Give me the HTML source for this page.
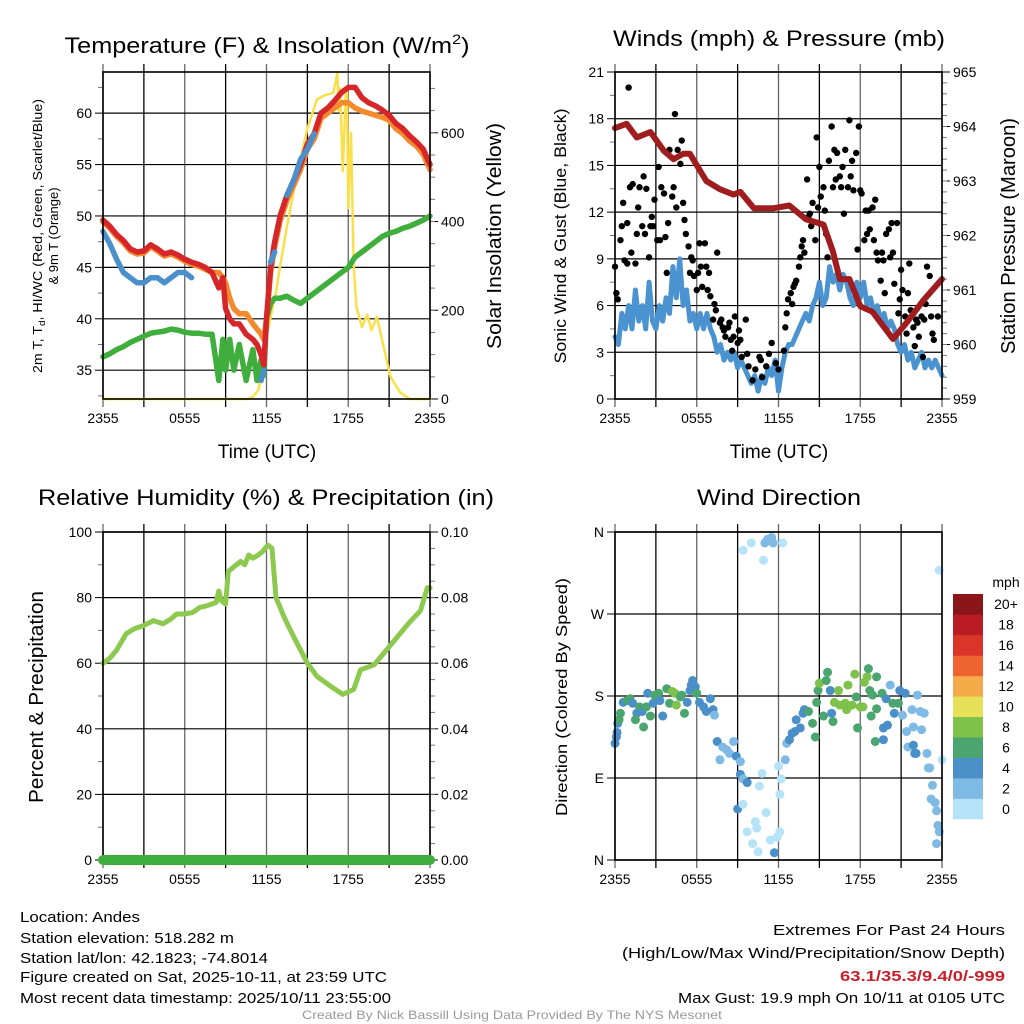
<!DOCTYPE html>
<html><head><meta charset="utf-8"><style>
html,body{margin:0;padding:0;background:#fff}
svg{display:block;font-family:"Liberation Sans",Arial,sans-serif}
</style></head><body>
<svg id="fig" width="1024" height="1024" viewBox="0 0 1024 1024" xmlns="http://www.w3.org/2000/svg">
<rect x="0" y="0" width="1024" height="1024" fill="#fff"/>
<g id="layer"></g>
<!-- titles -->
<text x="267" y="53" font-size="22" text-anchor="middle" textLength="405" lengthAdjust="spacingAndGlyphs">Temperature (F) &amp; Insolation (W/m<tspan font-size="14" dy="-9">2</tspan><tspan dy="9">)</tspan></text>
<text x="779" y="46" font-size="22" text-anchor="middle" textLength="332" lengthAdjust="spacingAndGlyphs">Winds (mph) &amp; Pressure (mb)</text>
<text x="266" y="505" font-size="22" text-anchor="middle" textLength="456" lengthAdjust="spacingAndGlyphs">Relative Humidity (%) &amp; Precipitation (in)</text>
<text x="779" y="505" font-size="22" text-anchor="middle" textLength="164" lengthAdjust="spacingAndGlyphs">Wind Direction</text>
<!-- axis titles -->
<text x="267" y="458" font-size="19" text-anchor="middle">Time (UTC)</text>
<text x="779" y="458" font-size="19" text-anchor="middle">Time (UTC)</text>
<text transform="translate(42,236) rotate(-90)" font-size="13" text-anchor="middle" textLength="274" lengthAdjust="spacingAndGlyphs">2m T, T<tspan font-size="9" dy="3">d</tspan><tspan dy="-3">, HI/WC (Red, Green, Scarlet/Blue)</tspan></text>
<text transform="translate(58,236) rotate(-90)" font-size="13" text-anchor="middle">&amp; 9m T (Orange)</text>
<text transform="translate(501,236) rotate(-90)" font-size="20" text-anchor="middle" textLength="226" lengthAdjust="spacingAndGlyphs">Solar Insolation (Yellow)</text>
<text transform="translate(566,236) rotate(-90)" font-size="17" text-anchor="middle" textLength="255" lengthAdjust="spacingAndGlyphs">Sonic Wind &amp; Gust (Blue, Black)</text>
<text transform="translate(1015,236) rotate(-90)" font-size="20" text-anchor="middle" textLength="236" lengthAdjust="spacingAndGlyphs">Station Pressure (Maroon)</text>
<text transform="translate(43,697) rotate(-90)" font-size="20" text-anchor="middle" textLength="212" lengthAdjust="spacingAndGlyphs">Percent &amp; Precipitation</text>
<text transform="translate(567,697) rotate(-90)" font-size="16" text-anchor="middle" textLength="238" lengthAdjust="spacingAndGlyphs">Direction (Colored By Speed)</text>
<!-- footer -->
<g font-size="15">
<text x="20" y="922" textLength="120" lengthAdjust="spacingAndGlyphs">Location: Andes</text>
<text x="20" y="943" textLength="214" lengthAdjust="spacingAndGlyphs">Station elevation: 518.282 m</text>
<text x="20" y="963" textLength="248" lengthAdjust="spacingAndGlyphs">Station lat/lon: 42.1823; -74.8014</text>
<text x="20" y="982" textLength="367" lengthAdjust="spacingAndGlyphs">Figure created on Sat, 2025-10-11, at 23:59 UTC</text>
<text x="20" y="1003" textLength="371" lengthAdjust="spacingAndGlyphs">Most recent data timestamp: 2025/10/11 23:55:00</text>
</g>
<g font-size="15" text-anchor="end">
<text x="1005" y="935" textLength="232" lengthAdjust="spacingAndGlyphs">Extremes For Past 24 Hours</text>
<text x="1005" y="958" textLength="383" lengthAdjust="spacingAndGlyphs">(High/Low/Max Wind/Precipitation/Snow Depth)</text>
<text x="1005" y="981" fill="#c8202a" font-weight="bold" textLength="165" lengthAdjust="spacingAndGlyphs">63.1/35.3/9.4/0/-999</text>
<text x="1005" y="1003" textLength="327" lengthAdjust="spacingAndGlyphs">Max Gust: 19.9 mph On 10/11 at 0105 UTC</text>
</g>
<text x="512" y="1019" font-size="12" fill="#999" text-anchor="middle" textLength="420" lengthAdjust="spacingAndGlyphs">Created By Nick Bassill Using Data Provided By The NYS Mesonet</text>
</svg>
<script>
// ---------- DATA ----------
const timeTickLabels = ["2355","0555","1155","1755","2355"];
const tHours = [0,0.5,1,1.5,2,2.5,3,3.5,4,4.5,5,5.5,6,6.5,7,7.5,8,8.5,8.8,9,9.3,9.6,10,10.5,11,11.3,11.6,11.8,12,12.3,12.6,13,13.5,14,14.5,15,15.5,16,16.5,17,17.5,18,18.5,19,19.5,20,20.5,21,21.5,22,22.5,23,23.5,24];
const tempRed = [49.6,49,48.2,47.6,46.8,46.5,46.6,47.2,46.8,46.3,46.5,46.2,45.8,45.5,45.3,45,44.5,43,44,41,40,39.5,39.5,38.5,38,37.5,36.5,35.5,40,45,47.5,50,52,53.5,55,57,58,60,60.5,61.2,62,62.5,62.5,61.5,61,60.7,60.3,59.8,59,58.5,57.8,57.2,56.5,55];
const temp9m = [49.4,48.8,48,47.4,46.6,46.3,46.4,47,46.6,46.1,46.3,46,45.6,45.3,45.1,44.8,44.5,44.5,44,43.5,42,41,40.5,40.5,39.5,39,38.5,38,40,44.5,47,49.5,51.5,53,54.5,56.5,57.5,59.5,60,60.5,61,61,60.5,60.2,60,59.8,59.6,59.3,58.5,58,57.3,56.8,56,54.5];
const dewpoint = [36.3,36.6,37,37.3,37.7,38,38.3,38.6,38.7,38.8,39,38.9,38.7,38.6,38.6,38.5,38.5,34,38,35,38,35,37.5,34,37,34,36,34.5,40,41.5,42,42,42.2,41.8,41.5,42,42.5,43,43.5,44,44.5,45,46,46.5,47,47.5,48,48.3,48.5,48.8,49,49.3,49.6,50];
const heatIndex = [48.5,47.3,45.8,44.5,44,43.5,43.5,44,44,43.5,44,44.5,44.5,44,null,null,null,null,null,null,null,null,null,null,null,null,34,35,null,45.5,46.5,null,52,53.5,55.5,56.5,58,null,null,null,null,null,null,null,null,null,null,null,null,null,null,null,null,null];
const solarHours = [0,10.6,11.0,11.4,11.8,12.0,12.4,12.7,13.0,13.5,14.0,14.5,15.0,15.7,16.3,16.9,17.2,17.3,17.4,17.6,17.8,17.9,18.0,18.2,18.4,18.6,19.0,19.4,19.7,20.1,20.6,21.1,21.8,22.5,24];
const solarVals = [0,0,5,20,80,140,200,240,300,388,470,540,610,675,685,690,735,650,700,513,680,700,430,600,300,208,162,190,155,185,117,50,15,0,0];
const tempTicks = [35,40,45,50,55,60];
const solarTicks = [0,200,400,600];

const windSpeed = [4,3.5,5.5,4.5, 6,4.5,7,5, 6,4.5,7.5,5, 4.5,6,5,6.5, 5.5,8.5,6.5,9, 6,7,5,5.5, 4.5,5.5,4.5,5.5, 4.5,4,3,3.5, 2.5,3,2.5,3, 2,2.5,2,1.5, 1,1.5,0.5,1.5, 1,2,1.5,2.5, 0.5,2,3,3.5, 3.5,4,4.5,5, 5.5,5,6,6.5, 7.5,6,6.5,8.5, 7.5,8,7,8, 7.5,6.5,6,7.5, 6.5,7.5,6,6.5, 5.5,6,5,5.5, 4.5,5,4.5,3.5, 3,3.5,2.5,3, 2,2.5,3,2, 2.5,2,2.5,2, 1.5];
const gustHours = [0.0,0.1,0.2,0.4,0.5,0.6,0.7,0.9,1.0,1.1,1.2,0.9,1.3,1.5,1.6,1.7,1.8,2.0,2.1,2.2,2.3,2.5,2.6,2.7,2.8,2.9,3.1,3.2,3.3,3.4,3.6,3.7,3.8,3.9,4.0,4.2,4.3,4.4,4.5,4.6,4.8,4.9,5.0,5.1,5.2,5.4,5.5,5.6,5.7,5.8,6.0,6.1,6.2,6.3,6.4,6.6,6.7,6.8,6.9,7.0,7.2,7.3,7.4,7.5,7.7,7.8,7.9,8.0,8.1,8.3,8.4,8.5,8.6,8.7,8.8,9.0,9.1,9.2,9.3,9.6,9.7,9.8,10.1,10.3,10.6,10.7,10.8,11.1,11.3,11.5,11.8,12.0,12.4,12.5,12.6,12.7,12.9,13.0,13.1,13.2,13.3,13.5,13.6,13.7,13.8,13.9,14.1,14.2,14.3,14.4,14.5,14.7,14.8,14.9,15.0,15.1,15.3,15.4,15.5,15.6,15.7,15.9,16.0,16.1,16.2,16.3,16.5,16.6,16.7,16.8,16.9,17.1,17.2,17.3,17.4,17.5,17.7,17.8,17.9,18.0,18.1,18.3,18.4,18.5,18.6,18.7,18.9,19.0,19.1,19.2,19.3,19.5,19.6,19.7,19.8,19.9,20.1,20.2,20.3,20.4,20.5,20.7,20.8,20.9,21.0,21.1,21.3,21.4,21.5,21.6,21.7,21.9,22.0,22.1,22.2,22.3,22.5,22.6,22.7,22.8,22.9,23.1,23.2,23.3,23.4,23.7];
const gustVals = [8.5,6.8,6.4,10.2,11.1,12.6,8.9,11.3,20.0,13.6,9.4,8.7,13.8,8.7,10.6,12.3,13.6,11.1,14.3,10.6,13.5,9.1,11.1,11.7,11.1,12.8,10.2,14.9,10.2,13.6,13.2,10.4,8.1,11.3,16.0,13.0,13.6,18.3,12.3,16.0,15.1,16.6,12.6,11.5,10.6,9.8,8.1,9.1,8.9,7.9,7.0,8.1,10.0,8.5,7.2,10.0,8.5,7.0,8.1,6.6,5.1,6.1,5.7,9.4,4.9,5.1,4.6,4.4,4.0,4.6,4.9,3.8,3.1,4.0,5.3,3.6,4.4,3.8,2.7,5.1,2.9,2.1,1.2,1.9,2.7,2.5,1.4,2.1,2.9,3.6,2.3,1.9,3.1,4.6,5.5,6.4,6.8,6.1,7.2,7.4,7.6,8.5,9.1,9.8,10.2,9.4,14.1,11.7,11.9,11.1,12.6,10.2,16.8,12.3,14.9,13.0,13.6,12.1,10.6,9.1,15.3,17.5,13.6,16.0,14.1,15.8,14.3,13.6,14.9,11.9,16.0,13.6,17.9,14.3,15.3,13.4,15.8,9.6,17.5,13.4,13.2,10.2,12.1,10.6,12.1,10.9,12.3,10.2,12.8,9.4,8.9,7.6,9.4,8.9,6.8,10.6,10.9,9.1,11.3,9.4,7.4,11.3,5.5,6.4,8.3,7.0,5.3,4.2,6.8,8.7,5.7,4.6,3.4,5.1,4.9,4.0,5.3,2.7,5.1,6.1,8.5,7.9,5.3,4.2,3.8,5.3];
const presHours = [0,0.85,1.6,2.6,3.6,4.3,5,5.5,6.7,7.7,8.7,9.2,10.2,11.6,12.8,14,15.3,16,16.5,17.2,18,18.9,20.4,21.4,22.6,24];
const presVals = [963.97,964.05,963.8,963.9,963.55,963.4,963.5,963.5,963.0,962.85,962.75,962.8,962.5,962.5,962.55,962.3,962.2,961.7,961.2,961.2,960.7,960.6,960.1,960.4,960.8,961.2];
const windTicks = [0,3,6,9,12,15,18,21];
const presTicks = [959,960,961,962,963,964,965];

const rhHours = [0,0.5,1,1.7,2.3,3,3.7,4.4,5,5.4,6,6.6,7.1,7.6,8.3,8.5,8.7,9.0,9.2,9.5,10.1,10.4,10.7,11,11.4,11.7,12.1,12.4,12.7,13.3,14,15,15.7,16.7,17.6,18.4,18.9,19.9,20.8,21.8,22.5,23.3,23.8,24];
const rhVals = [60,61.5,64,69,70.5,71.5,73,72,73.5,75,75,75.5,77,77.5,78.5,82,79,78,88,89,91,90,93,92,93,94,96,95,80,74,68,60,56,53,50.5,52,58,59.5,64,69,72.5,76,83,83];
const precipHours = [0,24];
const precipVals = [0,0];
const rhTicks = [0,20,40,60,80,100];
const precipTicks = ["0.00","0.02","0.04","0.06","0.08","0.10"];

const dirHours = [0,0.1,0.15,0.2,0.3,0.4,0.6,0.9,1.1,1.3,1.6,1.5,1.8,2.1,2.0,2.3,2.4,2.6,2.8,2.9,3.2,3.3,3.5,3.8,4.0,4.2,4.4,4.5,4.8,4.9,5.1,5.3,5.5,5.6,5.7,5.9,6.0,6.2,6.5,6.7,7.0,7.2,7.3,7.5,7.7,7.9,8.2,8.4,8.7,8.9,9.2,9.2,9.4,9.7,9.0,9.4,9.7,10.3,10.4,10.1,10.5,10.6,10.8,11.1,11.4,11.7,11.9,12.1,12.1,12.2,12.0,12.5,12.6,12.8,13.0,13.2,13.3,13.6,13.8,13.9,14.2,14.5,14.7,14.8,14.9,15.0,15.3,15.5,15.6,15.8,15.9,16.0,16.1,16.4,16.5,16.9,17.0,17.1,17.4,17.6,17.7,17.8,18.0,18.2,18.3,18.5,18.6,18.7,18.8,18.9,19.1,19.2,19.2,19.6,19.7,19.7,19.9,20.0,20.2,20.4,20.5,20.8,20.9,21.1,21.3,21.4,21.5,21.8,21.9,22.0,22.2,22.4,22.5,22.7,22.9,23.1,23.3,23.2,23.5,23.6,23.7,23.8,23.6,23.8,24.0,23.0,21.9,22.1,9.4,10.0,10.9,11.0,11.2,11.5,11.6,12.3];
const dirVals = [128,135,140,150,154,161,173,175,177,172,161,154,168,146,163,168,183,158,172,181,183,175,158,188,172,185,183,170,179,181,161,173,186,192,197,190,183,173,168,163,177,165,159,130,110,124,121,117,130,114,108,94,89,85,56,61,31,42,35,18,9,81,95,52,22,8,25,31,72,89,103,110,128,132,139,141,154,145,161,165,163,150,135,173,186,194,158,197,206,186,161,152,173,186,170,172,165,192,170,204,179,145,168,168,195,201,210,186,158,181,130,201,166,183,145,132,177,148,192,172,161,172,186,159,183,141,124,165,146,117,181,163,143,161,117,101,82,67,63,54,38,31,18,318,110,101,126,117,340,348,329,348,352,354,348,348];
const dirSpeed = [4,4,4,4,6,6,4,6,6,4,4,6,6,6,4,6,4,6,4,6,6,4,4,6,6,8,8,8,6,6,6,4,4,4,4,4,6,4,4,4,4,4,2,4,2,2,2,2,2,4,2,4,2,4,4,0,0,0,0,0,0,0,0,0,0,4,0,0,0,0,0,2,2,4,4,4,4,4,4,4,6,6,6,6,6,8,6,6,6,4,4,6,8,8,8,8,8,8,8,8,6,6,8,8,8,8,6,6,6,6,6,6,6,6,4,4,4,4,2,6,4,6,4,2,4,2,2,2,2,4,2,2,2,2,2,2,2,2,2,2,2,2,2,0,0,2,4,4,0,0,0,2,2,2,2,0];
const dirTickLabels = ["N","E","S","W","N"];
const dirTickVals = [0,90,180,270,360];
const speedLabels = ["0","2","4","6","8","10","12","14","16","18","20+"];
const speedColors = ["#b5e3f7","#7ebae4","#4a8fc7","#4aa56f","#7ec14b","#e6e159","#f4aa48","#ee6330","#db3529","#ba1c24","#8c1519"];

// ---------- DRAWING ----------
const NS = "http://www.w3.org/2000/svg";
const layer = document.getElementById("layer");
function el(tag, attrs, parent) {
  const e = document.createElementNS(NS, tag);
  for (const k in attrs) e.setAttribute(k, attrs[k]);
  (parent || layer).appendChild(e);
  return e;
}
function lin(d0, d1, r0, r1) { return v => r0 + (v - d0) / (d1 - d0) * (r1 - r0); }

function frame(x0, x1, y0, y1, name) {
  const g = el("g", {});
  
  
  const xs = lin(0, 24, x0, x1);
  for (let h = 0; h <= 24; h += 3) {
    const ln = el("line", {x1: xs(h), x2: xs(h), y1: y0 - 8, y2: y1 + 8, stroke: (h % 6 === 3) ? "#000" : "#666", "stroke-width": 1.3}, g);
    
    
  }
  timeTickLabels.forEach((t, i) => {
    const tx = el("text", {x: xs(i * 6), y: y1 + 24, "font-size": 14, "text-anchor": "middle"}, g);
    tx.textContent = t;
    
    
  });
  return {g, xs};
}
function hgrid(g, ys, ticks, labels, x0, x1, side, grid) {
  ticks.forEach((v, i) => {
    const y = ys(v);
    if (grid) {
      const ln = el("line", {x1: x0, x2: x1, y1: y, y2: y, stroke: "#000", "stroke-width": 1.2}, g);
      
      
    }
    const ax = side === "left" ? x0 : x1;
    const dx = side === "left" ? -8 : 8;
    el("line", {x1: ax, x2: ax + dx, y1: y, y2: y, stroke: "#000", "stroke-width": 1}, g);
    const tx = el("text", {x: side === "left" ? ax - 11 : ax + 11, y: y + 5, "font-size": 14, "text-anchor": side === "left" ? "end" : "start"}, g);
    tx.textContent = labels[i];
    
    
  });
}
function minor(g, ys, from, to, step, ax, dx) {
  for (let v = from; v <= to + 1e-9; v += step) {
    el("line", {x1: ax, x2: ax + dx, y1: ys(v), y2: ys(v), stroke: "#777", "stroke-width": 1}, g);
  }
}
function box(g, x0, x1, y0, y1) {
  const r = el("rect", {x: x0, y: y0, width: x1 - x0, height: y1 - y0, fill: "none", stroke: "#000", "stroke-width": 1.6}, g);
  
  
}
function path(g, hs, vs, xs, ys, color, w, name) {
  let d = "", pen = false;
  hs.forEach((h, i) => {
    const v = vs[i];
    if (v === null || v === undefined) { pen = false; return; }
    d += (pen ? "L" : "M") + xs(h).toFixed(1) + "," + ys(v).toFixed(1);
    pen = true;
  });
  const p = el("path", {d, fill: "none", stroke: color, "stroke-width": w, "stroke-linejoin": "round", "stroke-linecap": "round"}, g);
  
  
  return p;
}

// Panel 1: temperature
{
  const X0 = 103, X1 = 430, Y0 = 72, Y1 = 399;
  const {g, xs} = frame(X0, X1, Y0, Y1, "temperature-panel");
  const ys = lin(32.2, 64.0, Y1, Y0);
  const ss = lin(0, 737, Y1, Y0);
  hgrid(g, ys, tempTicks, tempTicks.map(String), X0, X1, "left", true);
  hgrid(g, ss, solarTicks, solarTicks.map(String), X0, X1, "right", false);
  minor(g, ys, 32.5, 62.5, 5, X0, -5);
  minor(g, ss, 50, 700, 50, X1, 5);
  path(g, solarHours, solarVals, xs, ss, "#f9e04b", 2.5, "solar-insolation-line");
  path(g, tHours, dewpoint, xs, ys, "#40ae3c", 5.5, "dewpoint-line");
  path(g, tHours, temp9m, xs, ys, "#f48a2e", 5.5, "temp-9m-line");
  path(g, tHours, tempRed, xs, ys, "#d7262a", 5.5, "temp-2m-line");
  path(g, tHours, heatIndex, xs, ys, "#4b90cb", 5.5, "heat-index-line");
  box(g, X0, X1, Y0, Y1);
}
// Panel 2: wind & pressure
{
  const X0 = 615, X1 = 942, Y0 = 72, Y1 = 399;
  const {g, xs} = frame(X0, X1, Y0, Y1, "wind-panel");
  const ys = lin(0, 21, Y1, Y0);
  const ps = lin(959, 965, Y1, Y0);
  hgrid(g, ys, windTicks, windTicks.map(String), X0, X1, "left", true);
  hgrid(g, ps, presTicks, presTicks.map(String), X0, X1, "right", false);
  minor(g, ys, 1.5, 19.5, 3, X0, -5);
  minor(g, ps, 959.2, 964.8, 0.2, X1, 5);
  const wh = windSpeed.map((_, i) => i * 0.25);
  path(g, wh, windSpeed, xs, ys, "#4b93d0", 5, "sonic-wind-line");
  gustHours.forEach((h, i) => {
    const c = el("circle", {cx: xs(h), cy: ys(gustVals[i]), r: 3.2, fill: "#000"}, g);
    
    
  });
  path(g, presHours, presVals, xs, ps, "#a01d1f", 6, "station-pressure-line");
  box(g, X0, X1, Y0, Y1);
}
// Panel 3: RH & precipitation
{
  const X0 = 103, X1 = 430, Y0 = 532, Y1 = 860;
  const {g, xs} = frame(X0, X1, Y0, Y1, "humidity-panel");
  const ys = lin(0, 100, Y1, Y0);
  const ps = lin(0, 0.1, Y1, Y0);
  hgrid(g, ys, rhTicks, rhTicks.map(String), X0, X1, "left", true);
  hgrid(g, ps, precipTicks.map(Number), precipTicks, X0, X1, "right", false);
  minor(g, ys, 10, 90, 20, X0, -5);
  minor(g, ps, 0.005, 0.095, 0.005, X1, 5);
  path(g, rhHours, rhVals, xs, ys, "#8cc94e", 5, "relative-humidity-line");
  box(g, X0, X1, Y0, Y1);
  path(g, precipHours, precipVals, xs, ps, "#40ae3c", 10, "precipitation-line");
}
// Panel 4: wind direction
{
  const X0 = 615, X1 = 942, Y0 = 532, Y1 = 860;
  const {g, xs} = frame(X0, X1, Y0, Y1, "wind-direction-panel");
  const ys = lin(0, 360, Y1, Y0);
  hgrid(g, ys, dirTickVals, dirTickLabels, X0, X1, "left", true);
  dirHours.forEach((h, i) => {
    const c = el("circle", {cx: xs(h), cy: ys(dirVals[i]), r: 4.5, fill: speedColors[dirSpeed[i] / 2]}, g);
    
    
  });
  box(g, X0, X1, Y0, Y1);
  // colorbar
  const cb = el("g", {});
  
  
  const bh = 225 / speedColors.length;
  speedColors.forEach((c, i) => {
    const y = 819 - (i + 1) * bh;
    const r = el("rect", {x: 953, y: y, width: 30, height: bh + 0.3, fill: c}, cb);
    
    
    const t = el("text", {x: 1006, y: y + bh / 2 + 5, "font-size": 14, "text-anchor": "middle"}, cb);
    t.textContent = speedLabels[i];
    
    
  });
  const u = el("text", {x: 1006, y: 587, "font-size": 14, "text-anchor": "middle"}, cb);
  u.textContent = "mph";
  
  
}
</script>
</body></html>
